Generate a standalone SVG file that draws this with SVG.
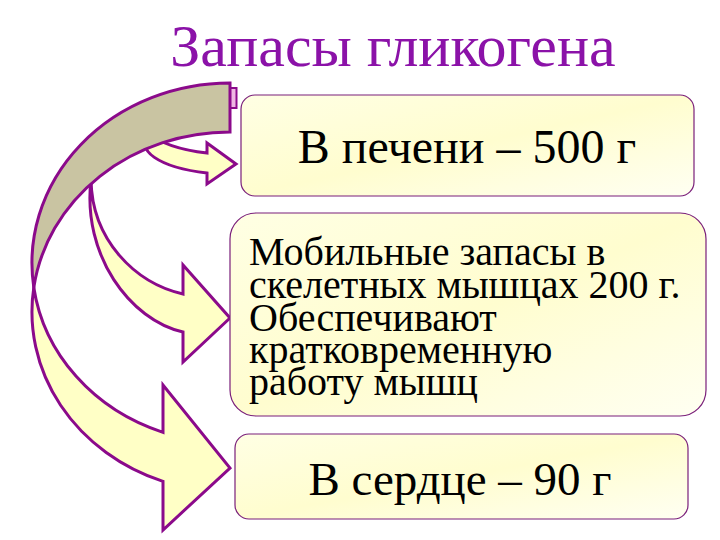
<svg xmlns="http://www.w3.org/2000/svg" width="720" height="540" viewBox="0 0 720 540">
<defs>
<style>
.arrow{stroke:#8B0A8B;stroke-width:3;stroke-linejoin:miter;stroke-miterlimit:10}
.front{fill:#FFFFC6}
.back{fill:#C9C4A2}
.box{stroke:#7A1F7A;stroke-width:1.2;fill:url(#boxfill)}
.t{fill:#000}
.title{fill:#8B12A8}
</style>
<linearGradient id="boxfill" x1="0" y1="0" x2="1" y2="1">
<stop offset="0" stop-color="#FFFFE4"/>
<stop offset="0.5" stop-color="#FFFDCF"/>
<stop offset="1" stop-color="#FFFFF2"/>
</linearGradient>
</defs>
<rect width="720" height="540" fill="#FFFFFF"/>
<text class="title" style="font-family:'Liberation Serif', serif" x="393" y="66" font-size="60" text-anchor="middle">Запасы гликогена</text>
<g id="connectors">
<path id="arrow-middle" class="arrow front" d="M 91,180 C 82,255 130,320 183,332 L 183,362 L 230,318 L 183,265 L 183,294 C 135,283 92,240 91,180 Z"/>
<path id="arrow-small" class="arrow front" d="M 149.8,133.5 A 90 31 0 0 0 207,153 L 207,143 L 236,164 L 207,184 L 207,173 A 90 31 0 0 1 149.8,133.5 Z"/>
<path id="arrow-big-front" class="arrow front" d="M 33.8,287.5 A 198 180 0 0 0 163,432.4 L 163,385 L 230,468 L 163,530 L 163,481.4 A 198 180 0 0 1 33.8,287.5 Z"/>
<path id="arrow-big-back" class="arrow back" d="M 230,83 A 198 180 0 0 0 33.8,287.5 A 198 180 0 0 1 230,132 Z"/>
<rect x="230.5" y="88" width="6" height="20" fill="#EFB7E3" stroke="#8B0A8B" stroke-width="2"/>
</g>
<g id="liver">
<rect class="box" x="241" y="95" width="453" height="101" rx="14"/>
<text class="t" style="font-family:'Liberation Serif', serif" x="467" y="163" font-size="48" text-anchor="middle">В печени – 500 г</text>
</g>
<g id="muscles">
<rect class="box" x="230" y="213" width="476" height="203" rx="26"/>
<text class="t" style="font-family:'Liberation Serif', serif" font-size="40" x="249" y="265">Мобильные запасы в</text>
<text class="t" style="font-family:'Liberation Serif', serif" font-size="40" x="249" y="298">скелетных мышцах  200 г.</text>
<text class="t" style="font-family:'Liberation Serif', serif" font-size="40" x="249" y="331">Обеспечивают</text>
<text class="t" style="font-family:'Liberation Serif', serif" font-size="40" x="249" y="363">кратковременную</text>
<text class="t" style="font-family:'Liberation Serif', serif" font-size="40" x="249" y="395">работу мышц</text>
</g>
<g id="heart">
<rect class="box" x="235" y="434" width="453" height="85" rx="14"/>
<text class="t" style="font-family:'Liberation Serif', serif" x="460" y="495" font-size="47" text-anchor="middle">В сердце – 90 г</text>
</g>
</svg>
